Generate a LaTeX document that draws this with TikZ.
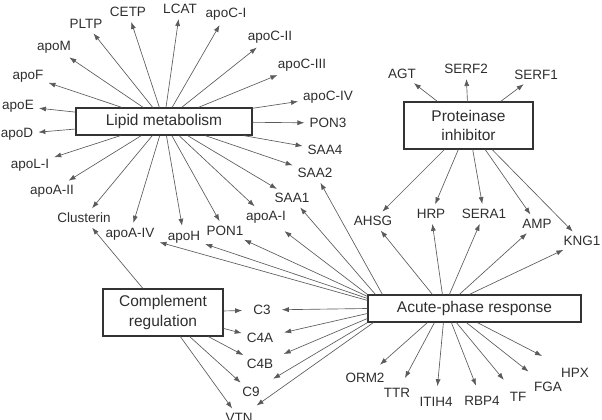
\documentclass[tikz,border=0pt]{standalone}
\usepackage{fontspec}
\setmainfont{Liberation Sans}
\usetikzlibrary{arrows.meta}
\definecolor{txtc}{HTML}{2E2E2E}
\definecolor{boxc}{HTML}{333333}
\definecolor{linec}{HTML}{5A5A5A}
\begin{document}
\begin{tikzpicture}[x=1pt,y=-1pt,
  lbl/.style={font=\fontsize{13.5}{16}\selectfont, text=txtc, inner sep=3pt},
  bx/.style={draw=boxc, line width=1.2pt, font=\fontsize{15.5}{19.5}\selectfont, text=txtc, align=center, inner sep=0pt},
  arr/.style={draw=linec, line width=0.65pt, -{Latex[length=7pt,width=5pt]}, shorten >=2pt},
  gap/.style={shorten >=8pt},
  gapb/.style={shorten >=12pt},
  gapc/.style={shorten >=20pt}]
\useasboundingbox (0,0) rectangle (602,420);

% boxes
\node[bx, minimum width=176pt, minimum height=27pt] (lip) at (164,121.5) {Lipid metabolism};
\node[bx, minimum width=129pt, minimum height=47pt] (pro) at (468.5,125.5) {Proteinase\\inhibitor};
\node[bx, minimum width=213pt, minimum height=27pt] (apr) at (474.5,308.5) {Acute-phase response};
\node[bx, minimum width=120pt, minimum height=47pt] (com) at (163,312.5) {Complement\\regulation};

% lipid labels
\node[lbl] (pltp) at (86,24) {PLTP};
\node[lbl] (cetp) at (128,12) {CETP};
\node[lbl] (lcat) at (180,9) {LCAT};
\node[lbl] (c1) at (226,14) {apoC-I};
\node[lbl] (c2) at (270,37) {apoC-II};
\node[lbl] (c3a) at (302,65) {apoC-III};
\node[lbl] (c4) at (328,97) {apoC-IV};
\node[lbl] (pon3) at (328,123) {PON3};
\node[lbl] (saa4) at (325,150) {SAA4};
\node[lbl] (saa2) at (315,173) {SAA2};
\node[lbl] (saa1) at (292,198) {SAA1};
\node[lbl] (apoai) at (266,217) {apoA-I};
\node[lbl] (pon1) at (225,231) {PON1};
\node[lbl] (apoh) at (184,237) {apoH};
\node[lbl] (apoaiv) at (130,234) {apoA-IV};
\node[lbl] (clu) at (84,218) {Clusterin};
\node[lbl] (apoaii) at (52,191) {apoA-II};
\node[lbl] (apoli) at (30,165) {apoL-I};
\node[lbl] (apod) at (17,134) {apoD};
\node[lbl] (apoe) at (18,106) {apoE};
\node[lbl] (apof) at (28,76) {apoF};
\node[lbl] (apom) at (54,47) {apoM};

% proteinase labels
\node[lbl] (agt) at (402,74) {AGT};
\node[lbl] (serf2) at (466,69) {SERF2};
\node[lbl] (serf1) at (536,75) {SERF1};
\node[lbl] (ahsg) at (373,221) {AHSG};
\node[lbl] (hrp) at (431,214) {HRP};
\node[lbl] (sera1) at (484,214) {SERA1};
\node[lbl] (amp) at (537,224) {AMP};
\node[lbl] (kng1) at (582,241) {KNG1};

% acute-phase lower labels
\node[lbl] (orm2) at (365,378) {ORM2};
\node[lbl] (ttr) at (397,393) {TTR};
\node[lbl] (itih4) at (436,402) {ITIH4};
\node[lbl] (rbp4) at (482,401) {RBP4};
\node[lbl] (tf) at (518,397) {TF};
\node[lbl] (fga) at (548,387) {FGA};
\node[lbl] (hpx) at (575,373) {HPX};

% complement labels
\node[lbl] (cc3) at (262,310) {C3};
\node[lbl] (c4a) at (260,338) {C4A};
\node[lbl] (c4b) at (260,364) {C4B};
\node[lbl] (c9) at (251,392) {C9};
\node[lbl] (vtn) at (239,418) {VTN};

% lipid metabolism connectors
\foreach \t in {pltp,cetp,lcat,c1,c2,c3a,c4,pon3,saa4,saa2,saa1,apoai,pon1,apoh,apoaiv,clu,apoaii,apoli,apod,apoe,apof,apom}
  \draw[arr] (lip) -- (\t);

% proteinase inhibitor connectors
\foreach \t in {agt,serf2,serf1,ahsg,hrp,sera1,amp,kng1}
  \draw[arr] (pro) -- (\t);

% complement regulation connectors
\draw[arr] (com) -- (clu);
\draw[arr,gap] (com) -- (cc3);
\draw[arr] (com) -- (c4a);
\draw[arr] (com) -- (c4b);
\draw[arr] (com) -- (c9);
\draw[arr] (com) -- (vtn);

% acute-phase response connectors
\draw[arr] ([xshift=15pt]apr.north west) -- (saa2);
\draw[arr] ([xshift=8pt]apr.north west) -- (saa1);
\draw[arr,gap] (apr.north west) -- (apoai);
\draw[arr] ([yshift=-2pt]apr.north west) -- (pon1);
\draw[arr] ([yshift=-4pt]apr.north west) -- (apoh);
\draw[arr] ([yshift=-6pt]apr.north west) -- (apoaiv);
\draw[arr] ([xshift=65pt]apr.north west) -- (ahsg);
\draw[arr] ([xshift=75pt]apr.north west) -- (hrp);
\draw[arr] ([xshift=82pt]apr.north west) -- (sera1);
\draw[arr] ([xshift=92pt]apr.north west) -- (amp);
\draw[arr] ([xshift=102pt]apr.north west) -- (kng1);
\draw[arr,gap] (apr.west) -- (cc3);
\draw[arr,gap] ([yshift=-5pt]apr.west) -- (c4a);
\draw[arr,gap] ([yshift=-10pt]apr.west) -- (c4b);
\draw[arr,gapb] (apr.south west) -- (c9);
\draw[arr,gap] ([xshift=6pt]apr.south west) -- (vtn);
\draw[arr,gap] ([xshift=60pt]apr.south west) -- (orm2);
\draw[arr,gap] ([xshift=67pt]apr.south west) -- (ttr);
\draw[arr,gap] ([xshift=76pt]apr.south west) -- (itih4);
\draw[arr,gap] ([xshift=84pt]apr.south west) -- (rbp4);
\draw[arr,gapb] ([xshift=89pt]apr.south west) -- (tf);
\draw[arr,gapb] ([xshift=99pt]apr.south west) -- (fga);
\draw[arr,gapc] ([xshift=110pt]apr.south west) -- (hpx);
\end{tikzpicture}
\end{document}
